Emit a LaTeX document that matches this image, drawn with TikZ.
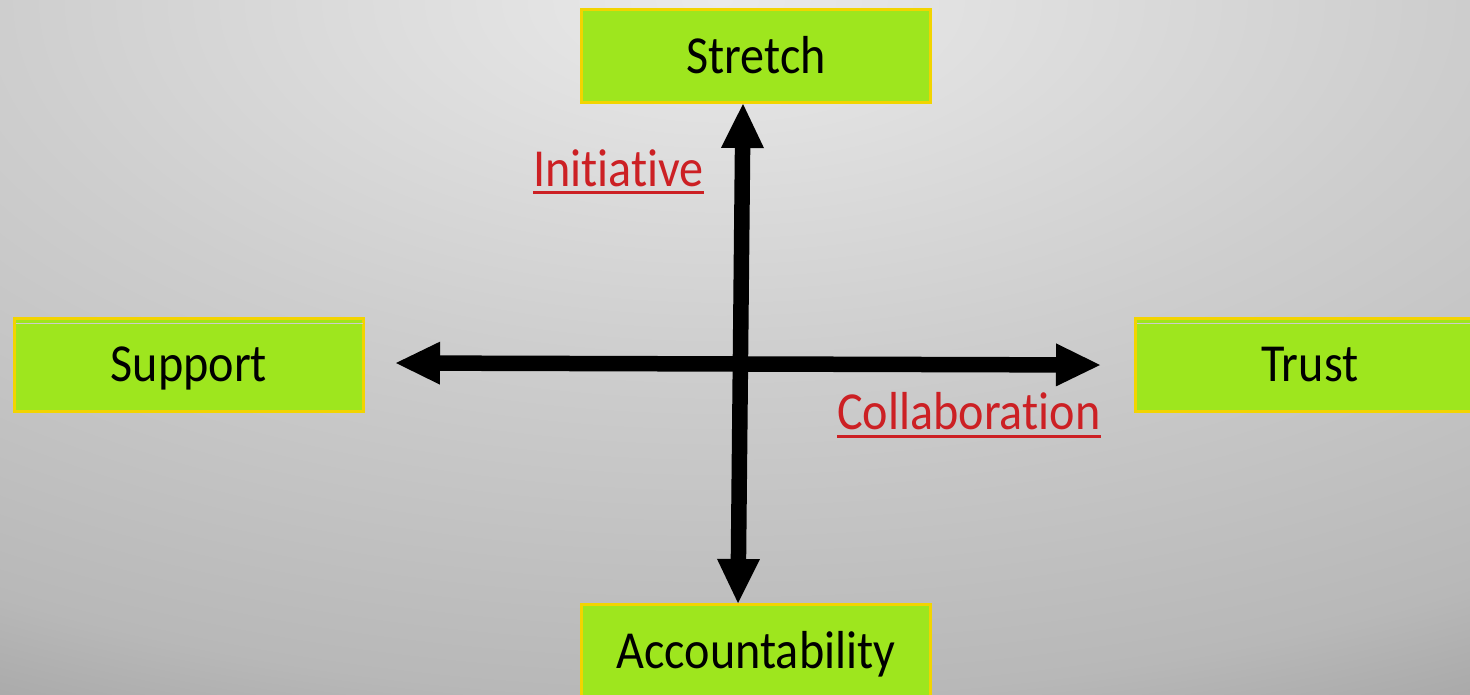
\documentclass[tikz,border=0pt]{standalone}
\usepackage{fontspec}
\setmainfont{Carlito}[FakeStretch=0.9, Ligatures=NoCommon, Contextuals=NoAlternate]
\usetikzlibrary{arrows.meta,calc}

\definecolor{boxgreen}{RGB}{158,230,30}
\definecolor{boxedge}{RGB}{242,212,0}
\definecolor{labelred}{RGB}{204,32,36}
\definecolor{innerrule}{RGB}{204,204,204}
\definecolor{bgA}{RGB}{234,234,234}
\definecolor{bgB}{RGB}{206,206,206}
\definecolor{bgC}{RGB}{184,184,184}
\definecolor{bgD}{RGB}{168,168,168}

% soft grey backdrop, brightest at the top centre
% (the middle 25bp radius of the shading spans the shaded ellipse)
\pgfdeclareradialshading{backdrop}{\pgfpointorigin}{%
  color(0bp)=(bgA); color(11.25bp)=(bgB); color(21.75bp)=(bgC);
  color(25bp)=(bgD); color(50bp)=(bgD)}

\tikzset{
  panel/.style={draw=boxedge, line width=3pt, fill=boxgreen,
    minimum width=349pt, minimum height=93pt, inner sep=0pt,
    text height=34pt, text depth=0pt,
    font=\fontsize{53.5}{60}\selectfont},
  tag/.style={text=labelred, inner sep=0pt,
    font=\fontsize{53.5}{60}\selectfont},
  tagline/.style={draw=labelred, line width=3pt},
  rulegrey/.style={draw=innerrule, line width=1pt},
  bigarrow/.style={line width=15.5pt,
    {Triangle[length=44pt,width=43pt,line width=0pt]}-{Triangle[length=44pt,width=43pt,line width=0pt]}}
}

\begin{document}
\begin{tikzpicture}[x=1pt,y=-1pt]
  \useasboundingbox (0,0) rectangle (1470,694);
  \begin{scope}
    \clip (0,0) rectangle (1470,694);
    \shade[shading=backdrop] (720,0) ellipse [x radius=1600, y radius=800];
  \end{scope}

  % the four poles
  \node[panel] (stretch) at (756,56)    {Stretch};
  \node[panel] (support) at (189,364.5) {Support};
  \node[panel] (trust)   at (1310,364.5){Trust};
  \node[panel] (account) at (756,651)   {Accountability};

  % faint rule near the top of the side panels
  \draw[rulegrey] ($(support.north west)+(2.5,6.5)$) -- ($(support.north east)+(-2.5,6.5)$);
  \draw[rulegrey] ($(trust.north west)+(2.5,6.5)$) -- ($(trust.north east)+(-2.5,6.5)$);

  % axis ends
  \coordinate (tipN) at (743,104);
  \coordinate (tipS) at (738,603);
  \coordinate (tipW) at (396,363);
  \coordinate (tipE) at (1100,365);

  \draw[bigarrow] (tipW) -- (tipE);
  \draw[bigarrow] (tipS) -- (tipN);

  % underlined labels
  \node[tag, anchor=base west] (init)   at (533,186) {Initiative};
  \node[tag, anchor=base west] (collab) at (837,429) {Collaboration};
  \draw[tagline] ([yshift=-6pt]init.base west) -- ([yshift=-6pt]init.base east);
  \draw[tagline] ([yshift=-7pt]collab.base west) -- ([yshift=-7pt]collab.base east);
\end{tikzpicture}
\end{document}
